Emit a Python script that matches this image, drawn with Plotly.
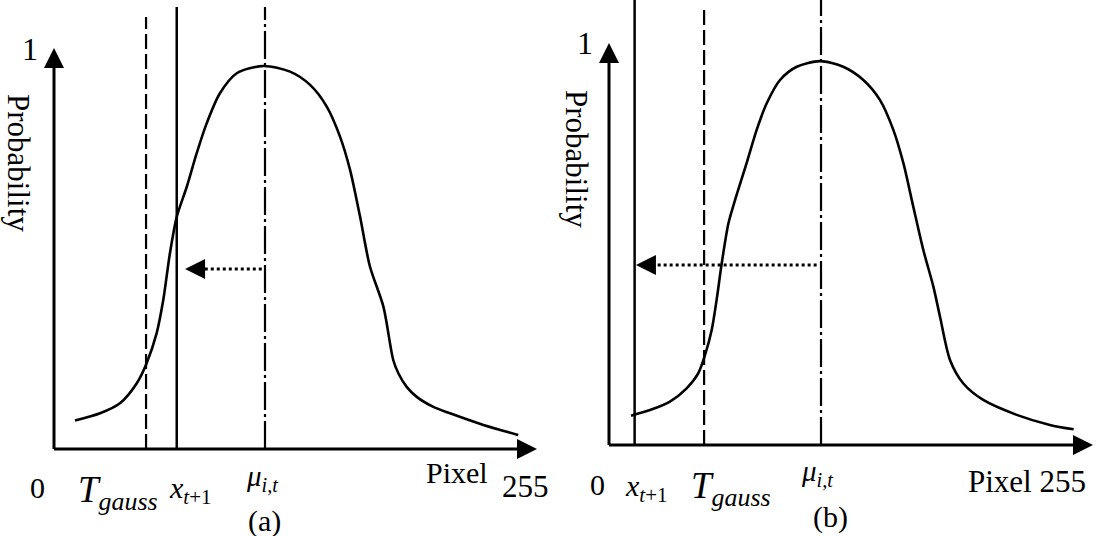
import plotly.graph_objects as go

W, H = 1102, 536

# ---------------- data (x: pixel intensity 0..255, y: probability 0..1) ----------------
curve_a_x = [11.1, 24.3, 34.8, 43.7, 48.9, 54.2, 57.7, 61.2, 64.8, 70.1, 75.3, 80.6, 87.6, 96.5,
             110.5, 124.6, 135.2, 144.0, 151.0, 156.3, 161.6, 166.8, 173.9, 179.1, 181.8, 186.2,
             191.5, 200.3, 209.1, 226.7, 245.1]
curve_a_y = [0.071, 0.089, 0.114, 0.164, 0.214, 0.289, 0.372, 0.488, 0.579, 0.654, 0.737, 0.812,
             0.887, 0.937, 0.955, 0.941, 0.908, 0.854, 0.779, 0.696, 0.579, 0.455, 0.355, 0.222,
             0.189, 0.155, 0.130, 0.105, 0.089, 0.060, 0.035]

curve_b_x = [11.6, 21.6, 32.1, 40.9, 47.0, 50.6, 54.1, 56.7, 59.4, 62.9, 66.4, 72.5, 77.8, 83.1,
             90.1, 98.9, 111.2, 123.4, 134.0, 142.8, 149.8, 155.1, 160.3, 165.6, 170.9, 174.4,
             179.7, 186.7, 197.2, 214.8, 232.3, 244.8]
curve_b_y = [0.073, 0.087, 0.108, 0.141, 0.178, 0.224, 0.286, 0.361, 0.452, 0.551, 0.609, 0.701,
             0.784, 0.850, 0.908, 0.941, 0.955, 0.941, 0.908, 0.858, 0.784, 0.701, 0.593, 0.485,
             0.394, 0.319, 0.211, 0.153, 0.112, 0.075, 0.050, 0.039]

t_gauss = [48.6, 50.1]          # dashed threshold line
x_t1 = [64.8, 13.5]             # solid line (new pixel value)
mu = [111.4, 111.7]             # dash-dot mean line
top_dashed = [1.077, 1.090]
top_solid = [1.102, 1.107]
top_dashdot = [1.102, 1.107]
arrow_prob = [0.449, 0.448]
arrow_start = [109.7, 109.4]
arrow_end = [69.2, 14.2]
x_max = 255
y_max = 1

panel_names = ["(a)", "(b)"]

# ---------------- layout geometry (pixels) ----------------
origin = [(54, 449), (609, 445)]
tip = [(537, 48), (1093, 43)]
dom = [(0, 551), (551, 1102)]
HEAD = 20      # arrow-head marker size
HEAD_LEN = 12  # approx. drawn head length in px

FONT = "Liberation Serif"
BLACK = "#000000"

fig = go.Figure()
layout_axes = {}
annotations = []


def seg(xs, ys, xa, ya, width, dash="solid", shape="linear"):
    fig.add_trace(go.Scatter(x=xs, y=ys, mode="lines", xaxis=xa, yaxis=ya,
                             line=dict(color=BLACK, width=width, dash=dash, shape=shape,
                                       smoothing=0.8 if shape == "spline" else None),
                             hoverinfo="skip", showlegend=False))


def head(x, y, symbol, xa, ya):
    fig.add_trace(go.Scatter(x=[x], y=[y], mode="markers", xaxis=xa, yaxis=ya,
                             marker=dict(symbol=symbol, size=HEAD, color=BLACK,
                                         line=dict(width=0)),
                             hoverinfo="skip", showlegend=False))


for i in range(2):
    xa = "x" if i == 0 else "x2"
    ya = "y" if i == 0 else "y2"
    (ox, oy), (tx, ty), (d0, d1) = origin[i], tip[i], dom[i]
    kx = x_max / (tx - ox)
    ky = y_max / (oy - ty)
    xr = [(d0 - ox) * kx, (d1 - ox) * kx]
    yr = [(oy - H) * ky, oy * ky]
    sfx = "" if i == 0 else "2"
    layout_axes["xaxis" + sfx] = dict(domain=[d0 / W, d1 / W], range=xr, visible=False,
                                      fixedrange=True, anchor=ya)
    layout_axes["yaxis" + sfx] = dict(domain=[0, 1], range=yr, visible=False,
                                      fixedrange=True, anchor=xa)

    cx = curve_a_x if i == 0 else curve_b_x
    cy = curve_a_y if i == 0 else curve_b_y
    seg(cx, cy, xa, ya, 2.6, shape="spline")
    # vertical reference lines
    seg([t_gauss[i], t_gauss[i]], [0, top_dashed[i]], xa, ya, 2.2, "15px,5px")
    seg([x_t1[i], x_t1[i]], [0, top_solid[i]], xa, ya, 2.5)
    seg([mu[i], mu[i]], [0, top_dashdot[i]], xa, ya, 2.2, "28px,4px,3px,4px")
    # dotted arrow
    seg([arrow_start[i], arrow_end[i] + HEAD_LEN * 0.8 * kx], [arrow_prob[i], arrow_prob[i]],
        xa, ya, 3, "3px,3px")
    head(arrow_end[i], arrow_prob[i], "arrow-left", xa, ya)
    # axes
    seg([0, 0], [0, y_max - HEAD_LEN * 0.5 * ky], xa, ya, 3)
    seg([0, x_max - HEAD_LEN * 0.5 * kx], [0, 0], xa, ya, 3)
    head(0, y_max, "arrow-up", xa, ya)
    head(x_max, 0, "arrow-right", xa, ya)


def label(px, py, text, size, angle=0):
    annotations.append(dict(x=px / W, y=1 - py / H, xref="paper", yref="paper", text=text,
                            showarrow=False, xanchor="center", yanchor="middle",
                            textangle=angle, font=dict(family=FONT, size=size, color=BLACK)))


T_TXT = "<i>T</i><sub><i>gauss</i></sub>"
X_TXT = "<i>x</i><sub><i>t</i>+1</sub>"
MU_TXT = "<i>μ</i><sub><i>i,t</i></sub>"

# panel (a) labels
label(30, 49, "1", 32)
label(19, 163, "Probability", 31, 90)
label(37, 487, "0", 30)
label(118, 492, T_TXT, 37)
label(190, 490, X_TXT, 30)
label(262, 478, MU_TXT, 29)
label(457, 472, "Pixel", 30)
label(525, 486, "255", 31)
label(264, 521, panel_names[0], 30)

# panel (b) labels
label(585, 43, "1", 32)
label(576, 159, "Probability", 31, 90)
label(598, 484, "0", 30)
label(646, 488, X_TXT, 30)
label(731, 488, T_TXT, 37)
label(817, 473, MU_TXT, 29)
label(1027, 481, "Pixel 255", 31)
label(830, 517, panel_names[1], 30)

fig.update_layout(width=W, height=H, margin=dict(l=0, r=0, t=0, b=0),
                  paper_bgcolor="white", plot_bgcolor="white",
                  annotations=annotations, showlegend=False, **layout_axes)

fig.write_html("out.html", config={"displayModeBar": False},
               post_script="document.body.style.margin='0';document.body.style.overflow='hidden';")
